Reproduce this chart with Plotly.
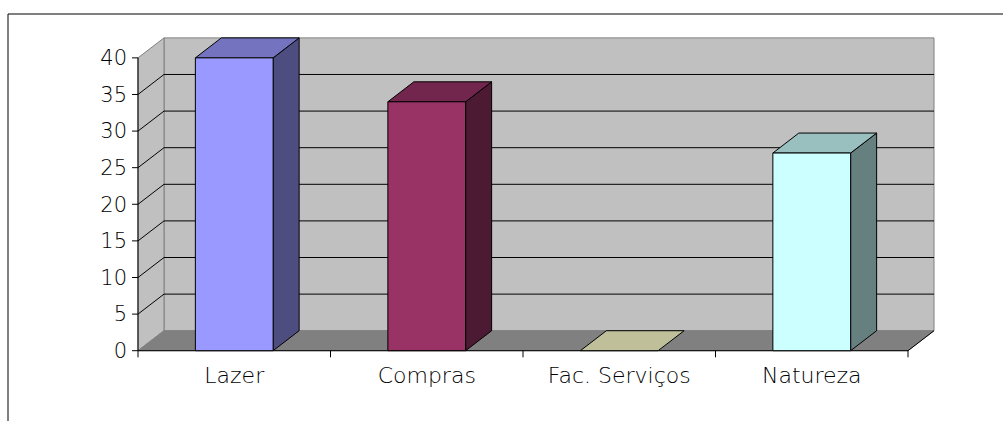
import plotly.graph_objects as go

categories = ["Lazer", "Compras", "Fac. Serviços", "Natureza"]
values = [40, 34, 0, 27]
front_colors = ["#9999FF", "#993366", "#FFFFCC", "#CCFFFF"]
top_colors = ["#7373BF", "#73264D", "#BFBF99", "#99BFBF"]
side_colors = ["#4D4D80", "#4D1A33", "#80806A", "#668080"]
y_ticks = [0, 5, 10, 15, 20, 25, 30, 35, 40]

# 3-D look (style constants)
DX = 0.135      # depth offset in category units
DY = 2.73       # depth offset in value units
HALF_W = 0.202  # half bar width (category units)
YMAX = 40
N = len(categories)

fig = go.Figure()


def poly(xs, ys, fill, line_color="#000000", width=1):
    fig.add_trace(go.Scatter(
        x=xs + [xs[0]], y=ys + [ys[0]], mode="lines", fill="toself",
        fillcolor=fill, line=dict(color=line_color, width=width),
        hoverinfo="skip", showlegend=False))


def lines(segs, color, width=1):
    xs, ys = [], []
    for (x0, y0, x1, y1) in segs:
        xs += [x0, x1, None]
        ys += [y0, y1, None]
    fig.add_trace(go.Scatter(x=xs, y=ys, mode="lines",
                             line=dict(color=color, width=width),
                             hoverinfo="skip", showlegend=False))


# walls and floor
poly([DX, N + DX, N + DX, DX], [DY, DY, YMAX + DY, YMAX + DY], "#C0C0C0", "#808080")
poly([0, DX, DX, 0], [0, DY, YMAX + DY, YMAX], "#C0C0C0", "#808080")
poly([0, N, N + DX, DX], [0, 0, DY, DY], "#808080", "#808080")

# gridlines
segs = []
for v in y_ticks[1:-1]:
    segs.append((0, v, DX, v + DY))
    segs.append((DX, v + DY, N + DX, v + DY))
lines(segs, "#000000")

# axes lines and ticks
ax = [(0, 0, 0, YMAX), (0, 0, N, 0), (N, 0, N + DX, DY)]
for v in y_ticks:
    ax.append((0, v, -0.031, v))
for i in range(N + 1):
    ax.append((i, 0, i, -0.9))
lines(ax, "#000000")

# bars
for i, (v, fc, tc, sc) in enumerate(zip(values, front_colors, top_colors, side_colors)):
    c = i + 0.5
    l, r = c - HALF_W, c + HALF_W
    if v > 0:
        poly([r, r + DX, r + DX, r], [0, DY, v + DY, v], sc)
    poly([l, r, r + DX, l + DX], [v, v, v + DY, v + DY], tc)
    if v > 0:
        poly([l, r, r, l], [0, 0, v, v], fc)

font_y = dict(family="DejaVu Sans", size=21, color="#000000", weight=200)
font_x = dict(family="DejaVu Sans", size=22, color="#000000", weight=200)

fig.update_layout(
    width=1003, height=421,
    margin=dict(l=130, r=64, t=34, b=61),
    paper_bgcolor="white", plot_bgcolor="rgba(0,0,0,0)",
    showlegend=False,
    font=font_y,
    xaxis=dict(range=[-0.0416, 4.161], showgrid=False, zeroline=False,
               showline=False, ticks="", tickvals=[i + 0.5 for i in range(N)],
               ticktext=categories, tickfont=font_x, fixedrange=True),
    yaxis=dict(range=[-1.27, 43.26], showgrid=False, zeroline=False,
               showline=False, ticks="", tickvals=y_ticks,
               ticktext=[str(t) for t in y_ticks], tickfont=font_y,
               ticklabelstandoff=2, fixedrange=True),
    shapes=[dict(type="rect", xref="paper", yref="paper",
                 xsizemode="pixel", ysizemode="pixel", xanchor=0, yanchor=1,
                 x0=-122, x1=900, y0=20, y1=-420,
                 line=dict(color="#000000", width=1), fillcolor="rgba(0,0,0,0)",
                 layer="below")],
)

fig.write_html("out.html")
